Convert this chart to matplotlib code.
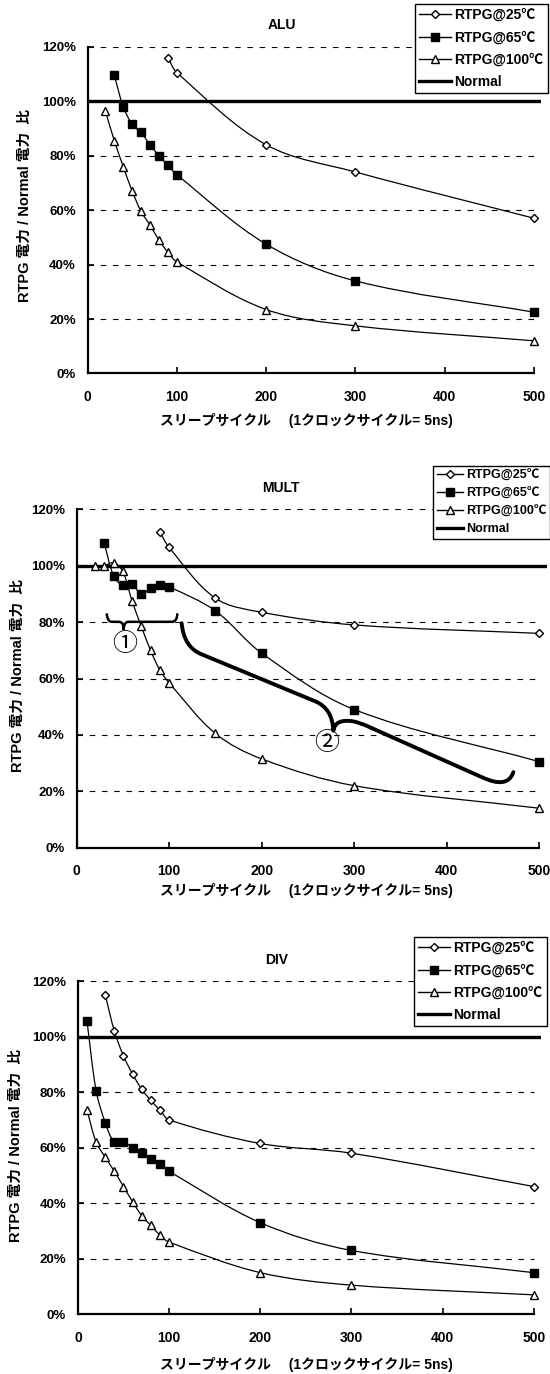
import numpy as np
import matplotlib
matplotlib.use('Agg')
import matplotlib.pyplot as plt
from matplotlib.path import Path
from matplotlib.patches import PathPatch
from matplotlib.lines import Line2D

plt.rcParams['font.family'] = ['Liberation Sans', 'Noto Sans CJK JP']
plt.rcParams['font.weight'] = 'bold'

# ---- data (ratio RTPG power / Normal power, %) ----
series_labels = ['RTPG@25℃', 'RTPG@65℃', 'RTPG@100℃']
normal_label = 'Normal'
normal_level = 100

alu_x_25 = [90, 100, 200, 300, 500]
alu_25 = [116, 110.5, 84, 74, 57]
alu_x_65 = [30, 40, 50, 60, 70, 80, 90, 100, 200, 300, 500]
alu_65 = [109.5, 98, 91.5, 88.5, 84, 80, 76.5, 73, 47.5, 34, 22.5]
alu_x_100 = [20, 30, 40, 50, 60, 70, 80, 90, 100, 200, 300, 500]
alu_100 = [96.5, 85.5, 76, 67, 59.5, 54.5, 49, 44.5, 41, 23.5, 17.5, 12]

mult_x_25 = [90, 100, 150, 200, 300, 500]
mult_25 = [112, 106.5, 88.5, 83.5, 79, 76]
mult_x_65 = [30, 40, 50, 60, 70, 80, 90, 100, 150, 200, 300, 500]
mult_65 = [108, 96.5, 93, 93.5, 90, 92, 93, 92.5, 84, 69, 49, 30.5]
mult_x_100 = [20, 30, 40, 50, 60, 70, 80, 90, 100, 150, 200, 300, 500]
mult_100 = [100, 100, 101, 98, 87.5, 78.5, 70, 63, 58.5, 40.5, 31.5, 22, 14]

div_x_25 = [30, 40, 50, 60, 70, 80, 90, 100, 200, 300, 500]
div_25 = [115, 102, 93, 86.5, 81, 77, 73.5, 70, 61.5, 58, 46]
div_x_65 = [10, 20, 30, 40, 50, 60, 70, 80, 90, 100, 200, 300, 500]
div_65 = [105.5, 80.5, 69, 62, 62, 60, 58, 56, 54, 51.5, 33, 23, 15]
div_x_100 = [10, 20, 30, 40, 50, 60, 70, 80, 90, 100, 200, 300, 500]
div_100 = [73.5, 62, 56.5, 51.5, 46, 40.5, 35.5, 32, 28.5, 26, 15, 10.5, 7]

x_ticks = [0, 100, 200, 300, 400, 500]
y_ticks = [0, 20, 40, 60, 80, 100, 120]

y_label = 'RTPG 電力 / Normal 電力  比'
x_label = 'スリープサイクル　 (1クロックサイクル= 5ns)'

W, H = 550, 1374
XMAX = 508

styles = [
    dict(marker='D', ms=4, mfc='white'),
    dict(marker='s', ms=6, mfc='black'),
    dict(marker='^', ms=6, mfc='white'),
]

fig = plt.figure(figsize=(W / 100, H / 100), dpi=100)


def smooth_line(ax, xs, ys):
    # Excel style smoothed connector drawn as bezier path through the points
    pts = ax.transData.transform(np.column_stack([xs, ys]).astype(float))
    n = len(pts)
    verts = [pts[0]]
    codes = [Path.MOVETO]
    for i in range(n - 1):
        p1, p2 = pts[i], pts[i + 1]
        t1 = pts[min(i + 1, n - 1)] - pts[max(i - 1, 0)]
        t2 = pts[min(i + 2, n - 1)] - pts[i]
        arm = np.hypot(*(p2 - p1)) / 3
        verts += [p1 + t1 / np.hypot(*t1) * arm, p2 - t2 / np.hypot(*t2) * arm, p2]
        codes += [Path.CURVE4] * 3
    path = Path(ax.transData.inverted().transform(np.array(verts)), codes)
    ax.add_patch(PathPatch(path, fill=False, edgecolor='black', lw=0.9, zorder=3))


def draw_panel(title, series, axes_px, title_px, legend_px, ylabel_px, xlabel_y,
               spacing, leg_size=10, handle_len=2.3):
    x0, xscale, y0, y120 = axes_px
    ax = fig.add_axes([x0 / W, 1 - y0 / H, XMAX * xscale / W, (y0 - y120) / H])
    ax.set_xlim(0, XMAX)
    ax.set_ylim(0, 120)
    for s in ['top', 'right']:
        ax.spines[s].set_visible(False)
    for s in ['left', 'bottom']:
        ax.spines[s].set_linewidth(1.6)
    ax.spines['bottom'].set_bounds(0, 500)
    ax.set_xticks(x_ticks)
    ax.set_yticks(y_ticks)
    ax.set_xticklabels([str(v) for v in x_ticks], fontsize=10, fontweight='bold')
    ax.set_yticklabels([f'{v}%' for v in y_ticks], fontsize=9.5, fontweight='bold')
    ax.tick_params(axis='x', direction='in', length=4, width=1.2, pad=12)
    ax.tick_params(axis='y', direction='in', length=4, width=1.2, pad=8.5)
    ax.hlines(y_ticks[1:], 0, 500, colors='black', linewidth=0.8,
              linestyles=(0, (5, 6)), zorder=1)
    ax.axhline(normal_level, color='black', lw=2.4, zorder=2)

    for (xs, ys), st in zip(series, styles):
        smooth_line(ax, xs, ys)
        ax.plot(xs, ys, ls='none', color='black', mec='black', mew=1,
                clip_on=False, zorder=4, **st)

    handles = [Line2D([], [], color='black', lw=1, mec='black', mew=1, **st) for st in styles]
    handles.append(Line2D([], [], color='black', lw=2.4))
    leg = ax.legend(handles, series_labels + [normal_label], loc='upper left',
                    bbox_to_anchor=(legend_px[0] / W, 1 - legend_px[1] / H),
                    bbox_transform=fig.transFigure, fancybox=False, framealpha=1,
                    edgecolor='black', borderaxespad=0, borderpad=0.3,
                    handlelength=handle_len, handletextpad=0.25, labelspacing=spacing,
                    prop=dict(weight='bold', size=leg_size))
    leg.get_frame().set_linewidth(1.0)

    fig.text(title_px[0] / W, 1 - title_px[1] / H, title, ha='center', va='center',
             fontsize=10, fontweight='bold')
    fig.text(ylabel_px[0] / W, 1 - ylabel_px[1] / H, y_label, ha='center', va='center',
             rotation=90, fontsize=10.5, fontweight='bold')
    fig.text(306 / W, 1 - xlabel_y / H, x_label, ha='center', va='center',
             fontsize=10, fontweight='bold')
    return ax


draw_panel('ALU', [(alu_x_25, alu_25), (alu_x_65, alu_65), (alu_x_100, alu_100)],
           (87.5, 0.893, 373.5, 46.7), (282, 25), (415, 4), (25, 205), 421, 0.6)

ax_m = draw_panel('MULT', [(mult_x_25, mult_25), (mult_x_65, mult_65), (mult_x_100, mult_100)],
                  (76.5, 0.9256, 847.7, 509.3), (281, 488), (433, 466), (17.5, 675), 891,
                  0.45, leg_size=9, handle_len=2.1)

draw_panel('DIV', [(div_x_25, div_25), (div_x_65, div_65), (div_x_100, div_100)],
           (77.9, 0.9116, 1314.3, 981), (277, 960), (414, 937), (16, 1145), 1364, 0.6)

# annotation braces on MULT panel
M, L, C3, C4 = Path.MOVETO, Path.LINETO, Path.CURVE3, Path.CURVE4
brace1 = Path([(32.6, 83.1), (33.5, 80.1), (38, 80.1), (46, 80.1),
               (51, 80.1), (51, 77.2), (51, 80.1), (56, 80.1), (103, 80.1),
               (108.9, 80.1), (108.9, 83.1)],
              [M, C3, C3, L, C3, C3, C3, C3, L, C3, C3])
ax_m.add_patch(PathPatch(brace1, fill=False, edgecolor='black', lw=1.8, zorder=5))
brace2 = Path([(113.6, 79.6), (116, 71.1), (135, 68.6), (258, 51.9),
               (276.5, 49.4), (277.5, 41.5),
               (279, 44.5), (286, 45.3), (297, 44.9),
               (305, 44.6), (317, 42.7), (438, 25.0),
               (447, 23.7), (466, 21.0), (472, 26.8)],
              [M, C3, C3, L, C3, C3, C4, C4, C4, C3, C3, L, C4, C4, C4])
ax_m.add_patch(PathPatch(brace2, fill=False, edgecolor='black', lw=2.8,
                         capstyle='round', joinstyle='round', zorder=5))
ax_m.text(52, 72.2, '①', ha='center', va='center', fontsize=18,
          fontweight='normal', family='Noto Sans CJK JP')
ax_m.text(270, 37, '②', ha='center', va='center', fontsize=18,
          fontweight='normal', family='Noto Sans CJK JP')

fig.savefig('out.png', dpi=100)
